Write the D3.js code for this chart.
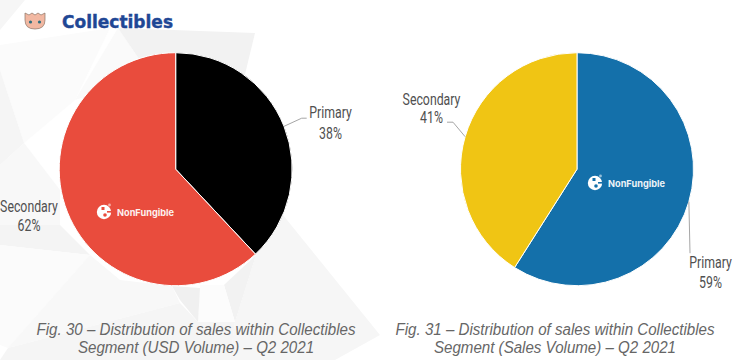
<!DOCTYPE html>
<html>
<head>
<meta charset="utf-8">
<script src="https://cdnjs.cloudflare.com/ajax/libs/d3/7.8.5/d3.min.js"></script>
<style>
  html, body { margin: 0; padding: 0; background: #fff; }
  svg { display: block; }
</style>
</head>
<body>
<div id="chart"></div>
<script>
const categories = ['Primary', 'Secondary'];
const usdVolume = [38, 62];
const salesVolume = [59, 41];
const usdColors = ['#000000', '#e94c3d'];
const salesColors = ['#1470aa', '#f0c514'];
const captionLeft = ['Fig. 30 – Distribution of sales within Collectibles', 'Segment (USD Volume) – Q2 2021'];
const captionRight = ['Fig. 31 – Distribution of sales within Collectibles', 'Segment (Sales Volume) – Q2 2021'];
const sectionTitle = 'Collectibles';
const watermark = 'NonFungible';

const width = 744, height = 360;
const svg = d3.select('#chart').append('svg').attr('width', width).attr('height', height);

// faint low-poly background behind the left chart
const bgPolys = [
  ['#f6f6f6', '0,0 25,0 0,30'],
  ['#fbfbfb', '0,45 110,28 75,100 24,143 0,70'],
  ['#f5f5f5', '0,70 24,143 0,165'],
  ['#fafafa', '75,100 118,28 150,75'],
  ['#f2f2f2', '118,28 255,33 240,95 150,75'],
  ['#f8f8f8', '0,165 24,143 60,190 60,225 0,225'],
  ['#f4f4f4', '0,225 60,225 90,255 0,245'],
  ['#fbfbfb', '0,245 90,255 8,348 0,345'],
  ['#f6f6f6', '283,215 380,335 335,360 230,360 235,322 256,255'],
  ['#f2f2f2', '256,255 235,322 224,285'],
  ['#fcfcfc', '200,285 224,285 235,322 198,322'],
  ['#f0f0f0', '172,286 200,288 198,322 180,300'],
  ['#f8f8f8', '90,255 8,348 180,303 172,286 120,280'],
  ['#f5f5f5', '8,348 180,303 198,322 235,322 230,360 0,360']
];
svg.append('g').selectAll('polygon').data(bgPolys).join('polygon')
  .attr('points', d => d[1]).attr('fill', d => d[0]);

const pie = d3.pie().sort(null);
const radius = 116.5;
const arc = d3.arc().innerRadius(0).outerRadius(radius);

function drawPie(cx, cy, values, colors) {
  const g = svg.append('g').attr('transform', `translate(${cx},${cy})`);
  g.selectAll('path')
    .data(pie(values))
    .join('path')
    .attr('d', arc)
    .attr('fill', (d, i) => colors[i])
    .attr('stroke', '#fff')
    .attr('stroke-width', 1);
  return g;
}

function drawLabel(g, i, values, tx, ty, gap, bend) {
  const a = pie(values)[i];
  const mid = (a.startAngle + a.endAngle) / 2;
  const px = Math.sin(mid) * radius, py = -Math.cos(mid) * radius;
  if (bend.length) {
    g.append('polyline')
      .attr('points', [[px, py]].concat(bend).map(p => p.join(',')).join(' '))
      .attr('fill', 'none').attr('stroke', '#a6a6a6').attr('stroke-width', 1);
  }
  const t = g.append('text')
    .attr('text-anchor', 'middle')
    .attr('fill', '#505050')
    .style('font-family', 'Roboto, sans-serif')
    .style('font-size', '16px')
    .attr('transform', `translate(${tx},${ty}) scale(0.77,1)`);
  t.append('tspan').attr('x', 0).attr('y', 0).text(categories[i]);
  t.append('tspan').attr('x', 0).attr('y', gap).text(values[i] + '%');
}

function drawMark(cx, cy, color) {
  const g = svg.append('g').attr('transform', `translate(${cx},${cy})`);
  g.append('circle').attr('r', 7.2).attr('fill', '#fff');
  g.append('rect').attr('x', -2.5).attr('y', -5).attr('width', 3).attr('height', 3).attr('fill', color);
  g.append('circle').attr('cx', 1).attr('cy', 3).attr('r', 1.8).attr('fill', color);
  g.append('rect').attr('x', 3).attr('y', -1).attr('width', 5).attr('height', 1.6).attr('fill', color);
  g.append('circle').attr('cx', 5.5).attr('cy', -7).attr('r', 1.4).attr('fill', '#fff').attr('opacity', 0.55);
  g.append('text').attr('x', 13).attr('y', 3.6)
    .attr('fill', '#fff').attr('opacity', 0.92)
    .style('font-size', '9.2px').style('font-weight', 700)
    .style('font-family', 'Inter, sans-serif').text(watermark);
}

const left = drawPie(175.7, 169.2, usdVolume, usdColors);
drawLabel(left, 0, usdVolume, 154.8, -51, 21, [[126, -51], [131, -51]]);
drawLabel(left, 1, usdVolume, -146.7, 43, 19, []);

const right = drawPie(577, 169.2, salesVolume, salesColors);
drawLabel(right, 0, salesVolume, 133.5, 99, 20, [[113, 84]]);
drawLabel(right, 1, salesVolume, -145.5, -64, 18, [[-124, -47], [-130, -47]]);

drawMark(104, 212, usdColors[1]);
drawMark(595, 183, salesColors[0]);

// section title with the small pig icon
const icon = svg.append('g').attr('transform', 'translate(35,21)');
icon.append('path')
  .attr('d', 'M-10,-8 L-6,-6 L-3,-8 L0,-6 L3,-8 L6,-6 L10,-8 L10,-1 Q10,8 0,8 Q-10,8 -10,-1 Z')
  .attr('fill', '#f2b8a2').attr('stroke', '#8b7466').attr('stroke-width', 0.7);
icon.selectAll('circle').data([-4.5, 4.5]).join('circle')
  .attr('cx', d => d).attr('cy', 1).attr('r', 1.6).attr('fill', '#2f6f7f');

svg.append('text').attr('x', 62).attr('y', 27.5)
  .attr('fill', '#1f4795').attr('stroke', '#1f4795').attr('stroke-width', 0.4)
  .style('font-size', '17px').style('font-weight', 700)
  .style('font-family', '"DejaVu Sans", sans-serif').text(sectionTitle);

function drawCaption(cx, lines) {
  const t = svg.append('text').attr('text-anchor', 'middle')
    .attr('fill', '#666666')
    .attr('transform', `translate(${cx},335) scale(0.945,1)`)
    .style('font-style', 'italic').style('font-size', '16px')
    .style('font-family', '"Liberation Sans", sans-serif');
  lines.forEach((l, i) => t.append('tspan').attr('x', 0).attr('y', i * 18).text(l));
}
drawCaption(196, captionLeft);
drawCaption(555, captionRight);
</script>
</body>
</html>
